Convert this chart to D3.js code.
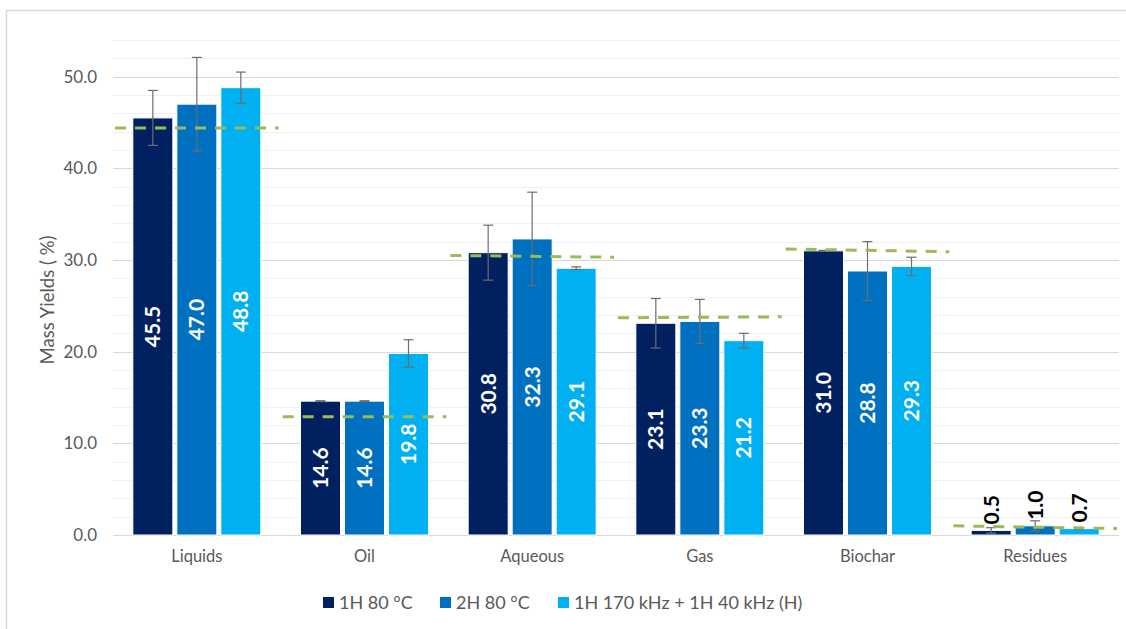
<!DOCTYPE html>
<html><head><meta charset="utf-8">
<script src="https://cdn.jsdelivr.net/npm/d3@7"></script>
<style>
html,body{margin:0;padding:0;background:#fff;}
svg{display:block;font-family:Lato,"Liberation Sans",sans-serif;}
</style></head>
<body><svg id="chart" width="1126" height="629"></svg>
<script>
const categories = ["Liquids","Oil","Aqueous","Gas","Biochar","Residues"];
const seriesNames = ["1H 80 °C","2H 80 °C","1H 170 kHz + 1H 40 kHz (H)"];
const series1 = [45.5,14.6,30.8,23.1,31.0,0.5];
const series2 = [47.0,14.6,32.3,23.3,28.8,1.0];
const series3 = [48.8,19.8,29.1,21.2,29.3,0.7];
const err1 = [3.0,0.05,3.0,2.7,0.05,0.3];
const err2 = [5.1,0.05,5.1,2.4,3.2,0.55];
const err3 = [1.7,1.5,0.15,0.8,1.0,0.1];
const refStart = [44.4,12.9,30.5,23.7,31.2,1.0];
const refEnd   = [44.4,12.9,30.3,23.8,30.9,0.7];
const yTicks = [0,10,20,30,40,50];
const yMax = 54;
const colors = ["#002060","#0070C0","#00B0F0"];

(function(){
const svg = d3.select("#chart");
const pLeft = 113, pRight = 1119, pTop = 40, pBottom = 535;
const FONT = "Lato,'Liberation Sans',sans-serif";

// frame
svg.append("rect").attr("x",6.5).attr("y",10.5).attr("width",1130).attr("height",640)
  .attr("fill","none").attr("stroke","#d9d9d9").attr("stroke-width",1.5);

const x = d3.scaleBand().domain(categories).range([pLeft,pRight]);
const y = d3.scaleLinear().domain([0,yMax]).range([pBottom,pTop]);

// minor gridlines
const minor = d3.range(2,yMax+0.1,2).filter(v=>v%10!==0);
svg.append("g").selectAll("line").data(minor).join("line")
  .attr("x1",pLeft).attr("x2",pRight).attr("y1",d=>Math.round(y(d))+0.5).attr("y2",d=>Math.round(y(d))+0.5)
  .attr("stroke","#f0f0f0").attr("stroke-width",1);
// major gridlines
svg.append("g").selectAll("line").data(yTicks).join("line")
  .attr("x1",pLeft).attr("x2",pRight).attr("y1",d=>Math.round(y(d))+0.5).attr("y2",d=>Math.round(y(d))+0.5)
  .attr("stroke","#d9d9d9").attr("stroke-width",1);

// y axis labels
const yAxis = d3.axisLeft(y).tickValues(yTicks).tickFormat(d3.format(".1f")).tickSize(0).tickPadding(16);
const ya = svg.append("g").attr("transform",`translate(${pLeft},0)`).call(yAxis);
ya.select(".domain").remove();
ya.selectAll("text").attr("fill","#595959").style("font-size","17px").style("font-family",FONT);

// x axis labels
const xAxis = d3.axisBottom(x).tickSize(0).tickPadding(15);
const xa = svg.append("g").attr("transform",`translate(0,${pBottom})`).call(xAxis);
xa.select(".domain").remove();
xa.selectAll("text").attr("fill","#595959").style("font-size","16.5px").style("font-family",FONT);

// y title
svg.append("text").attr("transform","translate(54,300) rotate(-90)").attr("text-anchor","middle")
  .attr("fill","#595959").style("font-size","18.5px").text("Mass Yields ( %)");

// bars
const allSeries = [series1,series2,series3];
const allErr = [err1,err2,err3];
const barW = 40, step = 44;
const data = [];
categories.forEach((c,i)=>{
  allSeries.forEach((s,j)=>{
    data.push({c, j, v:s[i], e:allErr[j][i], cx: x(c)+x.bandwidth()/2 + (j-1)*step});
  });
});

svg.append("g").selectAll("rect").data(data).join("rect")
  .attr("x",d=>d.cx-barW/2).attr("width",barW)
  .attr("y",d=>y(d.v)).attr("height",d=>y(0)-y(d.v))
  .attr("fill",d=>colors[d.j]).attr("stroke","#fff").attr("stroke-width",1);

// error bars
const eb = svg.append("g").attr("stroke","#6d6d6d").attr("stroke-width",1.2);
data.forEach(d=>{
  eb.append("line").attr("x1",d.cx).attr("x2",d.cx).attr("y1",y(d.v+d.e)).attr("y2",y(d.v-d.e));
  [d.v+d.e,d.v-d.e].forEach(t=>{
    eb.append("line").attr("x1",d.cx-5).attr("x2",d.cx+5).attr("y1",y(t)).attr("y2",y(t));
  });
});

// reference dashed lines
svg.append("g").selectAll("line").data(categories).join("line")
  .attr("x1",d=>x(d)+2).attr("x2",d=>x(d)+x.bandwidth()-2)
  .attr("y1",(d,i)=>y(refStart[i])).attr("y2",(d,i)=>y(refEnd[i]))
  .attr("stroke","#9BBB59").attr("stroke-width",3).attr("stroke-dasharray","11,9");

// labels
svg.append("g").selectAll("text").data(data).join("text")
  .attr("transform",d=>{
    if (d.v < 5) return `translate(${d.cx+7.5},${y(d.v)-6}) rotate(-90)`;
    return `translate(${d.cx+7.5},${(y(d.v)+y(0))/2}) rotate(-90)`;
  })
  .attr("text-anchor",d=>d.v<5?"start":"middle")
  .attr("fill",d=>d.v<5?"#000":"#fff")
  .style("font-size","21px").style("font-weight","bold")
  .text(d=>d3.format(".1f")(d.v));

// legend
const leg = svg.append("g").attr("transform","translate(0,602)");
const legX = [323,440,558];
seriesNames.forEach((n,i)=>{
  leg.append("rect").attr("x",legX[i]).attr("y",-5).attr("width",11).attr("height",11).attr("fill",colors[i]);
  leg.append("text").attr("x",legX[i]+16).attr("y",7).attr("fill","#595959").style("font-size","18px").text(n);
});
})();
</script></body></html>
